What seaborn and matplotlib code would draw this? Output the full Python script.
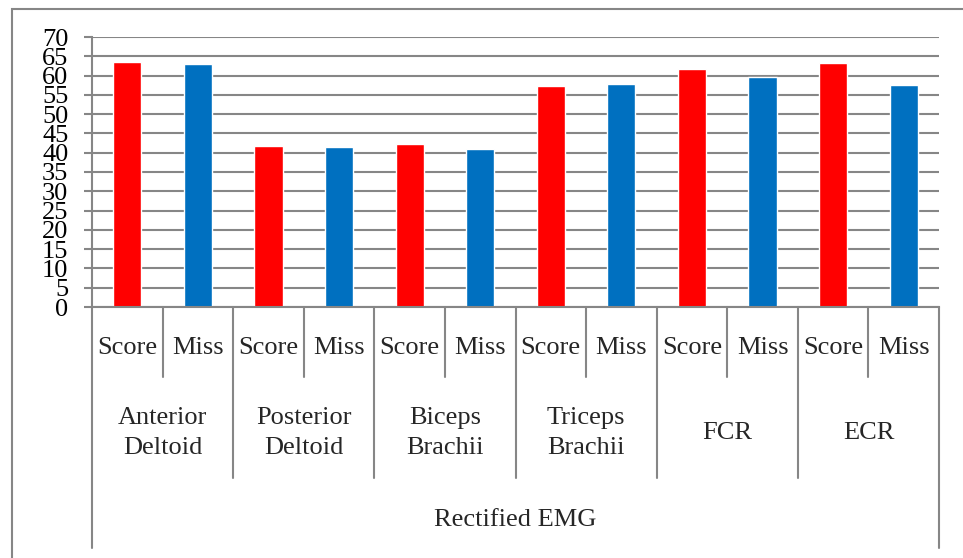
import pandas as pd
import matplotlib
matplotlib.use('Agg')
import matplotlib.pyplot as plt
import matplotlib.transforms as mtransforms
from matplotlib.patches import Rectangle
import seaborn as sns

# values
muscles = ['Anterior\nDeltoid', 'Posterior\nDeltoid', 'Biceps\nBrachii',
           'Triceps\nBrachii', 'FCR', 'ECR']
conditions = ['Score', 'Miss']
score_vals = [63.5, 41.8, 42.2, 57.3, 61.8, 63.3]
miss_vals = [63.1, 41.5, 41.0, 57.9, 59.7, 57.6]
outer_label = 'Rectified EMG'
y_ticks = list(range(0, 75, 5))
colors = {'Score': '#FF0000', 'Miss': '#0070C0'}

# long table, one row per bar, slot keeps the Score/Miss order
rows = []
for m, s, v in zip(muscles, score_vals, miss_vals):
    rows.append({'slot': m + '|Score', 'muscle': m, 'cond': 'Score', 'value': s})
    rows.append({'slot': m + '|Miss', 'muscle': m, 'cond': 'Miss', 'value': v})
df = pd.DataFrame(rows)

sns.set_style('white')
plt.rcParams['font.family'] = ['Liberation Serif', 'DejaVu Serif']

grey = '#868686'
fs = 19

fig = plt.figure(figsize=(9.63, 5.58), dpi=100)
ax = fig.add_axes([92 / 963, 1 - 307 / 558, (939 - 92) / 963, 270 / 558])

sns.barplot(data=df, x='slot', y='value', hue='cond', palette=colors,
            dodge=False, width=0.4, legend=False, ax=ax, saturation=1)

ax.set_ylim(0, 70)
ax.set_xlim(-0.5, len(df) - 0.5)
ax.set_yticks(y_ticks)
ax.set_yticklabels([str(t) for t in y_ticks], fontsize=fs)
ax.yaxis.grid(True, color=grey, lw=1.5)
ax.set_axisbelow(True)
ax.set_xlabel('')
ax.set_ylabel('')
ax.set_xticks([])
ax.tick_params(axis='y', direction='out', length=6, width=1.5, color=grey,
               pad=11, left=True, labelcolor='black')
ax.spines['top'].set_visible(False)
ax.spines['right'].set_visible(False)
for sp in ['left', 'bottom']:
    ax.spines[sp].set_color(grey)
    ax.spines[sp].set_linewidth(1.5)

# multi-level category axis below the plot
trans = mtransforms.blended_transform_factory(ax.transData, ax.transAxes)
n = len(df)
line_kw = dict(color=grey, lw=1.5, transform=trans, clip_on=False)
for i in range(n + 1):
    x = i - 0.5
    if i == 0 or i == n:
        y_end = -0.893
    elif i % 2 == 0:
        y_end = -0.633
    else:
        y_end = -0.259
    ax.plot([x, x], [0, y_end], **line_kw)

for i, cond in enumerate(df['cond']):
    ax.text(i, -0.152, cond, transform=trans, ha='center', va='center',
            fontsize=fs, clip_on=False)

for j, m in enumerate(muscles):
    ax.text(2 * j + 0.5, -0.467, m, transform=trans, ha='center', va='center',
            fontsize=fs, linespacing=1.45, clip_on=False)

ax.text((n - 1) / 2, -0.789, outer_label, transform=trans, ha='center',
        va='center', fontsize=fs, clip_on=False)

# chart-area border (right and bottom edges fall outside the image)
fig.add_artist(Rectangle((12 / 963, -0.1), 1.2, 1.1 - 9 / 558,
                         transform=fig.transFigure, fill=False,
                         edgecolor=grey, lw=1.5))

fig.savefig('out.png', dpi=100)
